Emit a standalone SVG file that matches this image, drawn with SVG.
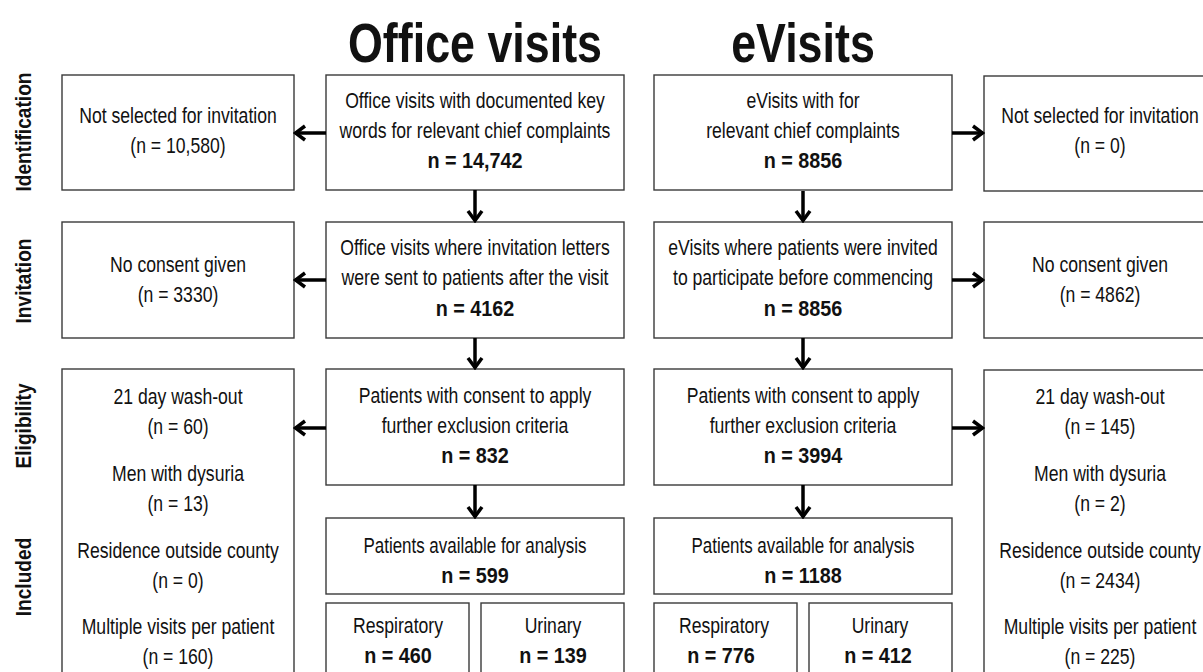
<svg xmlns="http://www.w3.org/2000/svg" width="1203" height="672" viewBox="0 0 1203 672">
<style>
.box{fill:#fff;stroke:#3a3a3a;stroke-width:1.4}
text{font-family:"Liberation Sans",Arial,sans-serif;fill:#111;text-anchor:middle}
.t{font-size:22px}
.b{font-size:22px;font-weight:bold}
.title{font-size:56px;font-weight:bold}
.lab{font-size:22px;font-weight:bold}
.arr{stroke:#000;stroke-width:3.5;fill:none;marker-end:url(#ah)}
</style>
<defs>
<marker id="ah" markerUnits="userSpaceOnUse" markerWidth="14" markerHeight="18" viewBox="0 0 14 18" refX="12" refY="9" orient="auto">
<path d="M2,2 L11.5,9 L2,16" fill="none" stroke="#000" stroke-width="3.5"/>
</marker>
</defs>
<rect width="1203" height="672" fill="#fff"/>

<g id="titles">
<text class="title" transform="translate(475,62) scale(0.8,1)">Office visits</text>
<text class="title" transform="translate(803,62) scale(0.8,1)">eVisits</text>
</g>

<g id="stage-labels">
<text class="lab" transform="translate(31,132) rotate(-90) scale(0.87,1)">Identification</text>
<text class="lab" transform="translate(31,281) rotate(-90) scale(0.87,1)">Invitation</text>
<text class="lab" transform="translate(31,426) rotate(-90) scale(0.87,1)">Eligibility</text>
<text class="lab" transform="translate(31,577) rotate(-90) scale(0.87,1)">Included</text>
</g>

<g id="office-notselected">
<rect class="box" x="62" y="75" width="232" height="115"/>
<text class="t" transform="translate(178,123) scale(0.8,1)">Not selected for invitation</text>
<text class="t" transform="translate(178,153) scale(0.8,1)">(n = 10,580)</text>
</g>
<g id="office-identified">
<rect class="box" x="326" y="75" width="298" height="115"/>
<text class="t" transform="translate(475,108) scale(0.8,1)">Office visits with documented key</text>
<text class="t" transform="translate(475,138) scale(0.8,1)">words for relevant chief complaints</text>
<text class="b" transform="translate(475,168) scale(0.9,1)">n = 14,742</text>
</g>
<g id="evisit-identified">
<rect class="box" x="654" y="75" width="298" height="115"/>
<text class="t" transform="translate(803,108) scale(0.8,1)">eVisits with for</text>
<text class="t" transform="translate(803,138) scale(0.8,1)">relevant chief complaints</text>
<text class="b" transform="translate(803,168) scale(0.9,1)">n = 8856</text>
</g>
<g id="evisit-notselected">
<rect class="box" x="984" y="76" width="232" height="115"/>
<text class="t" transform="translate(1100,123) scale(0.8,1)">Not selected for invitation</text>
<text class="t" transform="translate(1100,153) scale(0.8,1)">(n = 0)</text>
</g>

<g id="office-noconsent">
<rect class="box" x="62" y="222" width="232" height="116"/>
<text class="t" transform="translate(178,272) scale(0.8,1)">No consent given</text>
<text class="t" transform="translate(178,302) scale(0.8,1)">(n = 3330)</text>
</g>
<g id="office-invited">
<rect class="box" x="326" y="222" width="298" height="116"/>
<text class="t" transform="translate(475,255) scale(0.8,1)">Office visits where invitation letters</text>
<text class="t" transform="translate(475,285) scale(0.8,1)">were sent to patients after the visit</text>
<text class="b" transform="translate(475,316) scale(0.9,1)">n = 4162</text>
</g>
<g id="evisit-invited">
<rect class="box" x="654" y="222" width="298" height="116"/>
<text class="t" transform="translate(803,255) scale(0.8,1)">eVisits where patients were invited</text>
<text class="t" transform="translate(803,285) scale(0.8,1)">to participate before commencing</text>
<text class="b" transform="translate(803,316) scale(0.9,1)">n = 8856</text>
</g>
<g id="evisit-noconsent">
<rect class="box" x="984" y="222" width="232" height="116"/>
<text class="t" transform="translate(1100,272) scale(0.8,1)">No consent given</text>
<text class="t" transform="translate(1100,302) scale(0.8,1)">(n = 4862)</text>
</g>

<g id="office-excluded">
<rect class="box" x="62" y="369" width="232" height="320"/>
<text class="t" transform="translate(178,404) scale(0.8,1)">21 day wash-out</text>
<text class="t" transform="translate(178,434) scale(0.8,1)">(n = 60)</text>
<text class="t" transform="translate(178,481) scale(0.8,1)">Men with dysuria</text>
<text class="t" transform="translate(178,511) scale(0.8,1)">(n = 13)</text>
<text class="t" transform="translate(178,558) scale(0.8,1)">Residence outside county</text>
<text class="t" transform="translate(178,588) scale(0.8,1)">(n = 0)</text>
<text class="t" transform="translate(178,634) scale(0.8,1)">Multiple visits per patient</text>
<text class="t" transform="translate(178,664) scale(0.8,1)">(n = 160)</text>
</g>
<g id="office-consent">
<rect class="box" x="326" y="369" width="298" height="116"/>
<text class="t" transform="translate(475,403) scale(0.8,1)">Patients with consent to apply</text>
<text class="t" transform="translate(475,433) scale(0.8,1)">further exclusion criteria</text>
<text class="b" transform="translate(475,463) scale(0.9,1)">n = 832</text>
</g>
<g id="evisit-consent">
<rect class="box" x="654" y="369" width="298" height="116"/>
<text class="t" transform="translate(803,403) scale(0.8,1)">Patients with consent to apply</text>
<text class="t" transform="translate(803,433) scale(0.8,1)">further exclusion criteria</text>
<text class="b" transform="translate(803,463) scale(0.9,1)">n = 3994</text>
</g>
<g id="evisit-excluded">
<rect class="box" x="984" y="370" width="232" height="320"/>
<text class="t" transform="translate(1100,404) scale(0.8,1)">21 day wash-out</text>
<text class="t" transform="translate(1100,434) scale(0.8,1)">(n = 145)</text>
<text class="t" transform="translate(1100,481) scale(0.8,1)">Men with dysuria</text>
<text class="t" transform="translate(1100,511) scale(0.8,1)">(n = 2)</text>
<text class="t" transform="translate(1100,558) scale(0.8,1)">Residence outside county</text>
<text class="t" transform="translate(1100,588) scale(0.8,1)">(n = 2434)</text>
<text class="t" transform="translate(1100,634) scale(0.8,1)">Multiple visits per patient</text>
<text class="t" transform="translate(1100,664) scale(0.8,1)">(n = 225)</text>
</g>

<g id="office-analysis">
<rect class="box" x="326" y="518" width="298" height="76"/>
<text class="t" transform="translate(475,553) scale(0.77,1)">Patients available for analysis</text>
<text class="b" transform="translate(475,583) scale(0.9,1)">n = 599</text>
</g>
<g id="evisit-analysis">
<rect class="box" x="654" y="518" width="298" height="76"/>
<text class="t" transform="translate(803,553) scale(0.77,1)">Patients available for analysis</text>
<text class="b" transform="translate(803,583) scale(0.9,1)">n = 1188</text>
</g>

<g id="office-respiratory">
<rect class="box" x="326" y="603" width="143" height="90"/>
<text class="t" transform="translate(398,633) scale(0.8,1)">Respiratory</text>
<text class="b" transform="translate(398,663) scale(0.9,1)">n = 460</text>
</g>
<g id="office-urinary">
<rect class="box" x="481" y="603" width="143" height="90"/>
<text class="t" transform="translate(553,633) scale(0.8,1)">Urinary</text>
<text class="b" transform="translate(553,663) scale(0.9,1)">n = 139</text>
</g>
<g id="evisit-respiratory">
<rect class="box" x="654" y="603" width="143" height="90"/>
<text class="t" transform="translate(724,633) scale(0.8,1)">Respiratory</text>
<text class="b" transform="translate(721,663) scale(0.9,1)">n = 776</text>
</g>
<g id="evisit-urinary">
<rect class="box" x="809" y="603" width="143" height="90"/>
<text class="t" transform="translate(880,633) scale(0.8,1)">Urinary</text>
<text class="b" transform="translate(878,663) scale(0.9,1)">n = 412</text>
</g>

<g id="connectors">
<path class="arr" d="M326,133 H295"/>
<path class="arr" d="M952,133 H983"/>
<path class="arr" d="M326,280 H295"/>
<path class="arr" d="M952,280 H983"/>
<path class="arr" d="M326,428 H295"/>
<path class="arr" d="M952,428 H983"/>
<path class="arr" d="M475,190 V221"/>
<path class="arr" d="M803,191 V221"/>
<path class="arr" d="M475,338 V368"/>
<path class="arr" d="M803,338 V368"/>
<path class="arr" d="M475,485 V517"/>
<path class="arr" d="M803,485 V517"/>
</g>
</svg>
